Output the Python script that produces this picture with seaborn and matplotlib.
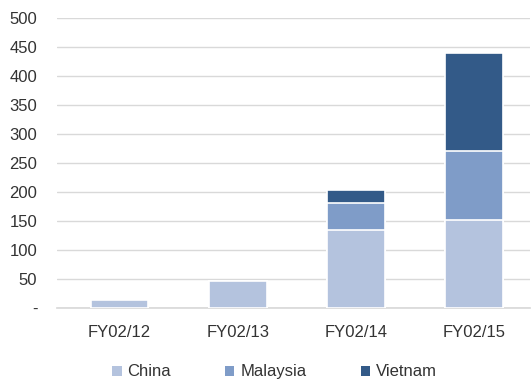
import numpy as np
import pandas as pd
import matplotlib
matplotlib.use("Agg")
import matplotlib.pyplot as plt
import seaborn as sns
from matplotlib.patches import Patch

years = ["FY02/12", "FY02/13", "FY02/14", "FY02/15"]
china = [14, 46, 134, 151]
malaysia = [0, 0, 47, 119]
vietnam = [0, 0, 22, 170]

series_names = ["China", "Malaysia", "Vietnam"]
colors = ["#B4C3DE", "#7F9CC8", "#335A88"]
yticks = [0, 50, 100, 150, 200, 250, 300, 350, 400, 450, 500]
ytick_labels = ["-", "50", "100", "150", "200", "250", "300", "350", "400", "450", "500"]

sns.set_theme(style="white")
plt.rcParams["font.family"] = ["Liberation Sans", "DejaVu Sans"]
text_color = "#333333"

fig = plt.figure(figsize=(5.31, 3.83), dpi=100)
ax = fig.add_axes([0.107, 0.196, 0.891, 0.757])

df = pd.DataFrame({"year": years, "China": china, "Malaysia": malaysia, "Vietnam": vietnam})
df["c1"] = df["China"]
df["c2"] = df["China"] + df["Malaysia"]
df["c3"] = df["c2"] + df["Vietnam"]

# stacked bars: draw cumulative totals from the top layer down
for col, color in zip(["c3", "c2", "c1"], colors[::-1]):
    sns.barplot(data=df, x="year", y=col, color=color, width=0.49,
                edgecolor="white", linewidth=1.2, saturation=1, ax=ax, zorder=3)

ax.set_ylim(0, 500)
ax.set_yticks(yticks)
ax.set_yticklabels(ytick_labels)
ax.set_xlim(-0.53, 3.47)
ax.set_xlabel("")
ax.set_ylabel("")
ax.grid(axis="y", color="#D9D9D9", linewidth=1, zorder=0)
for s in ["top", "right", "left"]:
    ax.spines[s].set_visible(False)
ax.spines["bottom"].set_color("#D9D9D9")
ax.tick_params(axis="both", length=0, colors=text_color, labelsize=12)
ax.tick_params(axis="y", pad=14)
ax.tick_params(axis="x", pad=12)
for lbl in ax.get_yticklabels():
    lbl.set_horizontalalignment("right")

handles = [Patch(facecolor=c, edgecolor="none") for c in colors]
leg = fig.legend(handles, series_names, loc="lower center", ncol=3,
                 bbox_to_anchor=(0.517, -0.03), frameon=False, fontsize=12,
                 handlelength=0.55, handleheight=0.55, handletextpad=0.35,
                 columnspacing=3.25)
for t in leg.get_texts():
    t.set_color(text_color)

fig.savefig("out.png", dpi=100)
